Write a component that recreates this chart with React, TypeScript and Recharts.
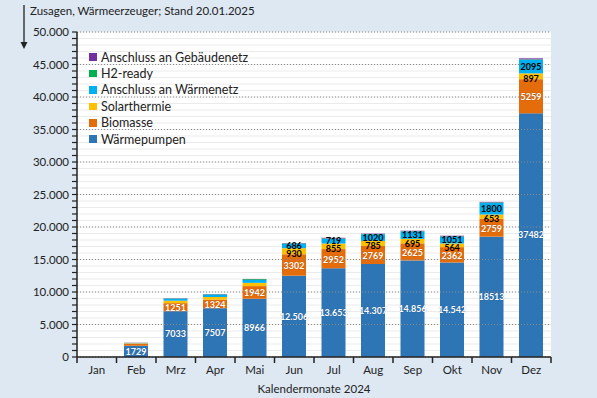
import React from 'react';
import { BarChart, Bar, XAxis, YAxis, CartesianGrid, ReferenceLine, LabelList } from 'recharts';

const months = ['Jan', 'Feb', 'Mrz', 'Apr', 'Mai', 'Jun', 'Jul', 'Aug', 'Sep', 'Okt', 'Nov', 'Dez'];
const waermepumpen = [0, 1729, 7033, 7507, 8966, 12506, 13653, 14307, 14856, 14542, 18513, 37482];
const biomasse = [0, 300, 1251, 1324, 1942, 3302, 2952, 2769, 2625, 2362, 2759, 5259];
const solarthermie = [0, 80, 380, 400, 500, 930, 855, 785, 695, 564, 653, 897];
const waermenetz = [0, 40, 300, 380, 450, 686, 719, 1020, 1131, 1051, 1800, 2095];
const h2ready = [0, 10, 40, 40, 120, 60, 60, 40, 40, 40, 60, 60];
const gebaeudenetz = [0, 20, 40, 40, 30, 50, 100, 60, 80, 100, 80, 150];

const waermepumpenLabels = ['', '1729', '7033', '7507', '8966', '12.506', '13.653', '14.307', '14.856', '14.542', '18513', '37482'];
const biomasseLabels = ['', '', '1251', '1324', '1942', '3302', '2952', '2769', '2625', '2362', '2759', '5259'];
const solarthermieLabels = ['', '', '', '', '', '930', '855', '785', '695', '564', '653', '897'];
const waermenetzLabels = ['', '', '', '', '', '686', '719', '1020', '1131', '1051', '1800', '2095'];

const yMajorTicks = [0, 5000, 10000, 15000, 20000, 25000, 30000, 35000, 40000, 45000, 50000];
const yAllTicks = Array.from({ length: 51 }, (_, i) => i * 1000);

const title = 'Zusagen, Wärmeerzeuger; Stand 20.01.2025';
const xAxisTitle = 'Kalendermonate 2024';

const series = [
  { key: 'wp', name: 'Wärmepumpen', color: '#2e75b6', values: waermepumpen, labels: waermepumpenLabels, labelColor: '#ffffff', push: 0 },
  { key: 'bio', name: 'Biomasse', color: '#e46c0a', values: biomasse, labels: biomasseLabels, labelColor: '#ffffff', push: 0.8 },
  { key: 'solar', name: 'Solarthermie', color: '#ffc000', values: solarthermie, labels: solarthermieLabels, labelColor: '#000000', push: 2.5 },
  { key: 'wn', name: 'Anschluss an Wärmenetz', color: '#00b0f0', values: waermenetz, labels: waermenetzLabels, labelColor: '#000000', push: 0 },
  { key: 'h2', name: 'H2-ready', color: '#00b050', values: h2ready, labels: null, labelColor: '#000000', push: 0 },
  { key: 'gn', name: 'Anschluss an Gebäudenetz', color: '#7030a0', values: gebaeudenetz, labels: null, labelColor: '#000000', push: 0 },
];

const data = months.map((m, i) => {
  const row: any = { month: m };
  series.forEach((s) => {
    row[s.key] = s.values[i];
    if (s.labels) row[s.key + 'Label'] = s.labels[i];
  });
  return row;
});

const FONT = 'Lato, "Open Sans", sans-serif';
const W = 597;
const H = 398;
const PLOT_LEFT = 77;
const PLOT_RIGHT = 551;
const BAND = (PLOT_RIGHT - PLOT_LEFT) / months.length;
const MARGIN = { top: 32, right: W - PLOT_RIGHT, bottom: 0, left: 0 };

const fmt = (v: number) => v.toString().replace(/\B(?=(\d{3})+(?!\d))/g, '.');

const YTick = (props: any) => {
  const { x, y, payload } = props;
  if (payload.value % 5000 !== 0) return null;
  return (
    <text x={x} y={y} dy={4} textAnchor="end" fontSize={11.5} fontFamily={FONT} fill="#222">
      {fmt(payload.value)}
    </text>
  );
};

const XTick = (props: any) => {
  const { x, y, payload, index } = props;
  const left = x - BAND / 2;
  return (
    <g>
      <line x1={left} x2={left} y1={y} y2={y + 6} stroke="#222" strokeWidth={1.5} />
      {index === months.length - 1 && (
        <line x1={x + BAND / 2} x2={x + BAND / 2} y1={y} y2={y + 6} stroke="#222" strokeWidth={1.5} />
      )}
      <text x={x} y={y + 17} textAnchor="middle" fontSize={11.5} fontFamily={FONT} fill="#222">
        {payload.value}
      </text>
    </g>
  );
};

const makeLabel = (color: string, push: number) => (props: any) => {
  const { x, y, width, height, value } = props;
  if (!value) return null;
  const shift = height < 8 || push < 2 ? push : 0;
  return (
    <text
      x={x + width / 2}
      y={y + height / 2 + shift}
      dy={3.2}
      textAnchor="middle"
      fontSize={9}
      fontWeight="bold"
      fontFamily={FONT}
      fill={color}
      stroke={color === '#ffffff' ? 'rgba(0,0,0,0.25)' : 'none'}
      strokeWidth={0.6}
      paintOrder="stroke"
    >
      {value}
    </text>
  );
};

export default function App() {
  return (
    <div style={{ position: 'absolute', left: 0, top: 0, width: W, height: H, background: '#dde8f3', fontFamily: FONT }}>
      <BarChart width={W} height={H} data={data} margin={MARGIN} barCategoryGap="19%">
        <CartesianGrid vertical={false} stroke="#ebebeb" fill="#ffffff" />
        {yMajorTicks.map((t) => (
          <ReferenceLine key={t} y={t} stroke="#8a8a8a" strokeDasharray="1 2" strokeWidth={1} />
        ))}
        <XAxis
          dataKey="month"
          height={41}
          tickSize={0}
          tickMargin={0}
          tickLine={false}
          axisLine={{ stroke: '#222', strokeWidth: 1.5 }}
          tick={<XTick />}
          interval={0}
          label={{ value: xAxisTitle, position: 'insideBottom', offset: 5, fontSize: 11.5, fill: '#222', fontFamily: FONT }}
        />
        <YAxis
          width={PLOT_LEFT}
          domain={[0, 50000]}
          ticks={yAllTicks}
          interval={0}
          tickSize={5}
          tickMargin={3}
          tickLine={{ stroke: '#222', strokeWidth: 1.2 }}
          axisLine={{ stroke: '#222', strokeWidth: 1.5 }}
          tick={<YTick />}
          allowDataOverflow
        />
        {series.map((s) => (
          <Bar key={s.key} dataKey={s.key} stackId="a" fill={s.color} isAnimationActive={false} />
        ))}
      </BarChart>
      <div style={{ position: 'absolute', left: 0, top: 0, pointerEvents: 'none' }}>
        <BarChart width={W} height={H} data={data} margin={MARGIN} barCategoryGap="19%">
          <XAxis dataKey="month" height={41} tick={false} tickLine={false} axisLine={false} />
          <YAxis width={PLOT_LEFT} domain={[0, 50000]} ticks={yMajorTicks} tick={false} tickLine={false} axisLine={false} />
          {series.map((s) => (
            <Bar key={s.key} dataKey={s.key} stackId="a" fill="transparent" isAnimationActive={false}>
              {s.labels && <LabelList dataKey={s.key + 'Label'} content={makeLabel(s.labelColor, s.push)} />}
            </Bar>
          ))}
        </BarChart>
      </div>
      <svg style={{ position: 'absolute', left: 0, top: 0 }} width={40} height={60}>
        <line x1={24} x2={24} y1={5} y2={44} stroke="#222" strokeWidth={1.3} />
        <path d="M20.5,42 L27.5,42 L24,49 Z" fill="#222" />
      </svg>
      <div style={{ position: 'absolute', left: 30, top: 4, fontSize: 11.5, color: '#222', whiteSpace: 'nowrap' }}>
        {title}
      </div>
      <div style={{ position: 'absolute', left: 89, top: 49 }}>
        {[...series].reverse().map((s) => (
          <div key={s.key} style={{ display: 'flex', alignItems: 'center', height: 16.4 }}>
            <div style={{ width: 7.5, height: 7.5, background: s.color, marginRight: 4.5 }} />
            <span style={{ fontSize: 12.5, color: '#222', whiteSpace: 'nowrap' }}>{s.name}</span>
          </div>
        ))}
      </div>
    </div>
  );
}
